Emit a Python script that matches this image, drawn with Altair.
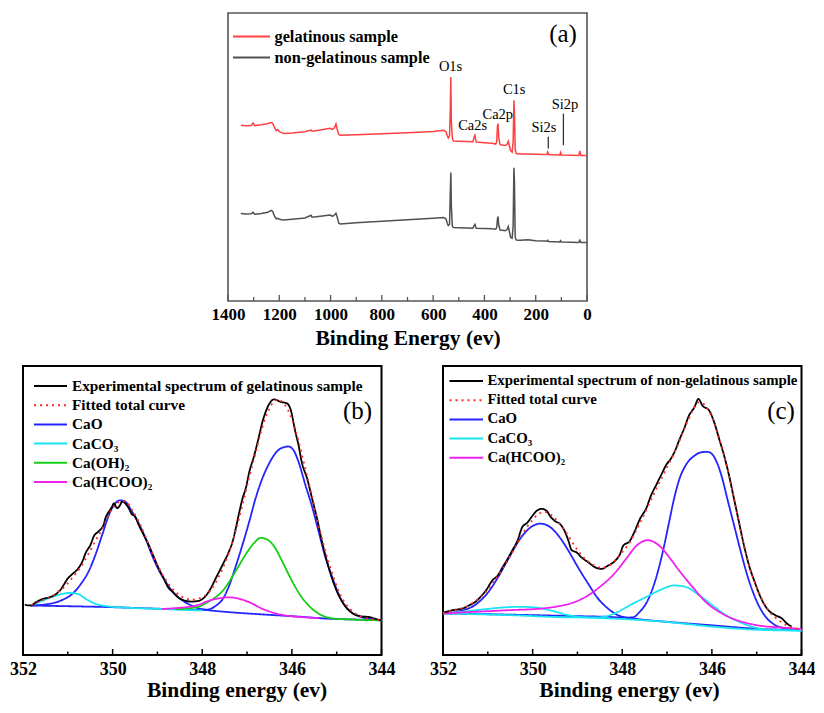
import altair as alt
import pandas as pd

FONT = "Liberation Serif"

# ---------------- Panel (a): survey spectra (binding energy, intensity a.u.) ----------------
a_gel = [(1350,176.3),(1330,175.8),(1310,176.2),(1302,178.5),(1296,176.0),(1270,176.8),(1245,177.8),(1232,179.0),
         (1226,178.5),(1220,175.0),(1212,171.0),(1206,172.0),(1200,170.0),(1190,169.0),(1184,168.0),(1150,168.5),
         (1100,169.8),(1076,171.5),(1072,170.3),(1040,171.5),(1002,173.3),(992,172.2),(984,174.0),(979,177.7),
         (974,172.0),(968,167.0),(962,166.3),(900,166.8),(800,167.8),(700,168.8),(600,170.2),(560,171.3),
         (550,170.0),(545,166.0),(541,163.5),(536,166.0),(533,195.0),(531,224.7),(529,180.0),(525,163.0),
         (521,160.5),(500,160.3),(470,160.0),(445,159.8),(440,164.5),(437,166.3),(432,159.5),(400,158.8),
         (370,158.2),(356,157.5),(352,160.0),(349,176.0),(347,178.0),(344,164.0),(339,157.0),(330,156.5),
         (318,156.0),(311,157.5),(307,160.3),(303,156.0),(298,151.0),(292,149.5),(288,160.0),(285,201.3),
         (283,190.0),(280,152.0),(276,148.0),(260,147.6),(230,147.4),(200,147.2),(165,147.0),(156,147.2),
         (153,149.5),(150,147.0),(130,146.8),(106,146.6),(103,149.0),(100,146.6),(60,146.3),(32,146.0),
         (28,150.5),(24,146.0),(10,145.9),(1,145.7)]
a_non = [(1350,87.7),(1330,87.2),(1310,87.5),(1302,89.0),(1296,87.0),(1270,87.8),(1245,89.0),(1232,91.0),
         (1226,90.0),(1220,86.0),(1212,82.5),(1206,83.0),(1200,82.0),(1190,81.5),(1184,81.3),(1150,82.0),
         (1100,83.3),(1076,86.0),(1072,84.0),(1040,85.0),(1002,86.3),(992,85.0),(984,86.5),(979,88.0),
         (974,84.0),(968,78.0),(962,77.3),(900,78.5),(800,80.0),(700,81.5),(600,83.0),(560,83.7),
         (550,82.5),(545,78.0),(541,75.7),(536,77.0),(533,110.0),(531,129.0),(529,95.0),(525,75.0),
         (521,73.7),(500,73.5),(470,73.2),(445,73.0),(440,76.0),(437,77.0),(432,73.0),(400,72.8),
         (370,72.5),(356,72.0),(352,74.0),(349,83.0),(347,84.7),(344,76.0),(339,71.3),(330,71.0),
         (318,70.5),(311,72.0),(307,74.7),(303,70.0),(298,64.0),(292,63.0),(288,75.0),(285,133.7),
         (283,120.0),(280,64.0),(276,61.3),(260,61.0),(230,61.5),(200,60.5),(165,60.2),(156,60.0),
         (153,61.0),(150,59.8),(130,59.5),(106,59.2),(103,60.5),(100,59.2),(60,59.0),(32,58.8),
         (28,61.0),(24,58.8),(10,58.7),(1,58.7)]
a_series = ["gelatinous sample", "non-gelatinous sample"]
a_colors = ["#ff4040", "#505050"]
a_peak_labels = ["O1s", "Ca2s", "Ca2p", "C1s", "Si2s", "Si2p"]
a_peak_E = [532, 446, 348, 284, 168, 86]
a_peak_I = [234.7, 175.3, 187.0, 211.3, 173.7, 197.0]
a_marker_E = [151, 92]
a_marker_lo = [153.0, 156.3]
a_marker_hi = [164.7, 188.0]
a_ticks_major = [1400, 1200, 1000, 800, 600, 400, 200, 0]
a_ticks_minor = [1300, 1100, 900, 700, 500, 300, 100]

# ---------------- Panel (b): Ca 2p, gelatinous sample ----------------
b_names = ["Experimental spectrum of gelatinous sample", "Fitted total curve", "CaO", "CaCO\u2083",
           "Ca(OH)\u2082", "Ca(HCOO)\u2082"]
b_colors = ["#000000", "#ff2a2a", "#2424ff", "#18e4f2", "#14d014", "#f020f0"]
b_exp = [(351.96,50.7),(351.82,50.0),(351.71,53.3),(351.56,56.7),(351.41,58.3),(351.26,61.7),(351.15,66.7),
         (351.08,71.7),(351.01,76.7),(350.90,81.7),(350.78,86.7),(350.67,95.0),(350.60,103.3),(350.49,111.7),
         (350.42,120.0),(350.31,125.0),(350.20,131.7),(350.16,138.3),(350.08,145.0),(350.01,150.0),(349.97,153.3),
         (349.90,148.3),(349.83,151.7),(349.79,155.0),(349.72,153.3),(349.64,148.3),(349.57,142.3),(349.50,140.0),
         (349.42,131.7),(349.31,121.7),(349.20,111.7),(349.09,100.0),(348.98,88.3),(348.87,78.3),(348.76,68.3),
         (348.65,63.3),(348.54,58.3),(348.39,55.0),(348.24,54.0),(348.13,54.3),(347.99,56.7),(347.84,65.0),
         (347.69,78.3),(347.54,91.7),(347.40,105.0),(347.32,115.0),(347.25,128.3),(347.17,145.0),(347.10,158.3),
         (347.03,168.3),(346.95,185.0),(346.84,201.7),(346.73,221.7),(346.66,235.0),(346.59,245.0),(346.51,253.3),
         (346.40,258.3),(346.25,255.7),(346.11,254.3),(346.03,248.3),(345.92,225.0),(345.85,211.7),(345.78,195.0),
         (345.66,178.3),(345.55,158.3),(345.44,138.3),(345.33,115.0),(345.22,95.0),(345.11,78.3),(344.97,61.7),
         (344.82,50.0),(344.63,41.7),(344.45,39.0),(344.27,38.3),(344.15,36.7),(344.01,35.0)]
b_fit = [(351.82,50.5),(351.56,55.5),(351.26,62.0),(351.05,70.0),(350.90,78.0),(350.71,89.0),(350.53,103.0),
         (350.35,118.0),(350.20,130.0),(350.05,145.0),(349.93,152.0),(349.80,155.5),(349.68,154.0),(349.57,147.0),
         (349.42,135.0),(349.27,120.0),(349.13,104.0),(348.98,89.0),(348.83,77.0),(348.65,66.0),(348.46,59.0),
         (348.24,56.0),(348.05,57.5),(347.84,64.0),(347.69,74.0),(347.54,88.0),(347.40,104.0),(347.25,126.0),
         (347.10,152.0),(346.95,180.0),(346.81,204.0),(346.66,230.0),(346.51,248.0),(346.40,256.0),(346.30,258.0),
         (346.20,255.0),(346.08,247.0),(345.96,233.0),(345.85,216.0),(345.70,188.0),(345.55,160.0),(345.41,132.0),
         (345.26,106.0),(345.11,84.0),(344.97,66.0),(344.82,53.0),(344.67,45.0),(344.52,40.0),(344.38,37.5),
         (344.15,36.0),(344.01,35.0)]
b_cao_1 = [(351.82,50.0),(351.41,51.7),(351.12,55.7),(350.90,61.7),(350.71,71.7),(350.53,85.0),(350.38,101.7),
           (350.23,121.7),(350.08,141.7),(349.97,151.7),(349.83,156.3),(349.72,155.0),(349.57,145.0),(349.42,133.3),
           (349.27,118.3),(349.13,101.7),(348.98,86.7),(348.83,75.0),(348.65,63.3),(348.46,55.7),(348.24,50.0),
           (348.02,46.5),(347.70,44.5),(347.40,43.3),(346.66,41.0),(345.92,39.0),(345.19,36.7),(344.45,35.7),
           (344.00,35.0)]
b_cao_2 = [(351.82,50.0),(351.00,49.3),(350.00,48.3),(349.00,46.8),(348.30,46.0),(347.91,45.7),(347.69,50.0),
           (347.54,56.7),(347.40,70.0),(347.25,90.0),(347.10,111.7),(346.95,135.0),(346.81,158.3),(346.66,178.3),
           (346.51,193.3),(346.36,204.3),(346.22,209.3),(346.08,210.7),(345.96,206.7),(345.85,195.0),(345.70,172.0),
           (345.55,150.0),(345.41,126.0),(345.26,100.0),(345.11,80.0),(344.97,63.0),(344.82,50.0),(344.67,43.0),
           (344.52,39.5),(344.38,37.5),(344.15,36.0),(344.00,35.0)]
b_caco3 = [(351.82,50.0),(351.56,55.0),(351.26,60.0),(350.97,62.7),(350.78,61.7),(350.60,56.7),(350.38,51.7),
           (350.08,49.0),(349.64,47.7),(349.05,46.7),(348.46,45.7),(347.99,45.0)]
b_caoh2 = [(348.60,46.3),(348.13,48.3),(347.84,54.3),(347.54,65.0),(347.25,85.0),(347.03,101.7),(346.84,113.3),
           (346.70,118.3),(346.55,116.7),(346.40,110.0),(346.22,95.0),(346.00,75.0),(345.78,58.3),(345.55,46.7),
           (345.33,40.0),(345.04,36.7),(344.60,35.7),(344.00,35.0)]
b_formate = [(348.90,46.5),(348.55,47.5),(348.32,48.5),(348.13,50.0),(347.84,55.0),(347.62,57.3),(347.40,58.3),
             (347.17,56.7),(346.95,53.3),(346.66,46.7),(346.36,42.0),(346.07,39.5),(345.78,38.3),(345.40,37.2)]

# ---------------- Panel (c): Ca 2p, non-gelatinous sample ----------------
c_names = ["Experimental spectrum of non-gelatinous sample", "Fitted total curve", "CaO", "CaCO\u2083",
           "Ca(HCOO)\u2082"]
c_colors = ["#000000", "#ff2a2a", "#2424ff", "#18e4f2", "#f020f0"]
c_exp = [(352.00,42.7),(351.78,45.3),(351.56,47.0),(351.41,50.3),(351.26,54.3),(351.15,59.3),(351.04,65.3),
         (350.90,75.3),(350.78,80.3),(350.67,88.7),(350.56,97.0),(350.45,106.0),(350.34,115.3),(350.23,129.3),
         (350.12,133.7),(350.01,140.3),(349.90,146.0),(349.79,147.7),(349.68,145.3),(349.61,140.3),(349.50,135.3),
         (349.38,132.0),(349.27,123.7),(349.20,115.3),(349.13,106.0),(349.02,103.7),(348.91,98.7),(348.76,93.7),
         (348.61,88.7),(348.46,87.0),(348.32,90.3),(348.17,94.7),(348.05,102.0),(347.98,110.3),(347.83,115.3),
         (347.72,125.3),(347.61,137.0),(347.46,148.7),(347.35,162.0),(347.24,172.0),(347.13,182.0),(347.02,192.0),
         (346.91,198.7),(346.80,208.7),(346.73,217.0),(346.62,228.7),(346.51,242.0),(346.39,250.3),(346.30,258.7),
         (346.21,252.0),(346.06,247.0),(345.95,235.3),(345.84,218.7),(345.73,202.0),(345.62,182.0),(345.51,158.7),
         (345.40,135.3),(345.29,112.0),(345.18,92.0),(345.03,72.0),(344.88,55.3),(344.74,45.3),(344.59,40.3),
         (344.44,37.0),(344.33,32.0),(344.22,28.7)]
c_fit = [(352.00,42.5),(351.78,45.0),(351.56,47.5),(351.41,50.5),(351.26,55.0),(351.04,64.0),(350.90,72.0),
         (350.67,87.0),(350.45,104.0),(350.23,122.0),(350.01,136.0),(349.85,143.0),(349.72,144.5),(349.60,142.0),
         (349.42,134.0),(349.27,125.0),(349.13,115.0),(349.00,106.0),(348.80,96.0),(348.60,90.0),(348.46,88.0),
         (348.30,90.0),(348.17,95.0),(348.00,104.0),(347.83,114.0),(347.61,133.0),(347.46,147.0),(347.24,168.0),
         (347.02,188.0),(346.80,208.0),(346.62,228.0),(346.45,245.0),(346.32,255.0),(346.20,254.0),(346.06,246.0),
         (345.95,236.0),(345.84,220.0),(345.73,202.0),(345.62,182.0),(345.51,159.0),(345.40,135.0),(345.29,112.0),
         (345.18,92.0),(345.03,72.0),(344.88,56.0),(344.74,45.0),(344.59,38.0),(344.44,33.0),(344.30,29.0),
         (344.15,27.0),(344.00,26.0)]
c_cao_1 = [(352.00,42.0),(351.63,44.3),(351.26,51.3),(350.97,64.7),(350.75,80.3),(350.53,98.0),(350.31,115.3),
           (350.08,127.7),(349.83,132.7),(349.61,129.3),(349.42,120.3),(349.20,105.3),(348.98,88.0),(348.76,72.0),
           (348.54,57.0),(348.32,47.0),(348.10,40.3),(347.87,37.5),(347.60,36.0),(347.00,33.5),(346.00,30.0),
           (345.00,26.5),(344.00,25.3)]
c_cao_2 = [(352.00,42.0),(350.53,40.8),(349.05,39.3),(348.30,38.5),(347.95,37.8),(347.76,38.0),(347.61,43.7),
           (347.46,52.7),(347.35,63.7),(347.24,78.7),(347.09,105.3),(346.95,135.3),(346.84,158.7),(346.73,177.0),
           (346.58,192.0),(346.39,201.3),(346.25,204.7),(346.10,205.3),(345.99,202.7),(345.88,193.7),(345.77,178.7),
           (345.66,158.7),(345.51,132.0),(345.36,105.3),(345.22,82.0),(345.07,62.0),(344.92,47.0),(344.77,37.0),
           (344.59,30.3),(344.37,27.0),(344.00,25.3)]
c_caco3_1 = [(352.00,42.0),(351.56,43.7),(351.12,46.0),(350.67,48.0),(350.31,48.7),(349.94,48.0),(349.57,44.7),
             (349.20,40.3),(348.83,38.0),(348.32,37.0),(347.09,33.7),(345.99,28.7),(344.88,25.3),(344.00,24.7)]
c_caco3_2 = [(352.00,42.0),(350.53,40.3),(349.05,38.0),(348.54,38.0),(348.17,42.0),(347.83,50.3),(347.46,58.7),
             (347.17,65.3),(346.84,70.3),(346.58,68.7),(346.28,60.3),(345.99,50.3),(345.69,40.3),(345.40,33.7),
             (345.11,28.7),(344.81,26.0),(344.52,25.3),(344.00,24.7)]
c_formate = [(352.00,42.0),(351.26,43.7),(350.53,45.3),(349.79,47.0),(349.42,49.3),(349.05,53.7),(348.76,60.3),
             (348.46,70.3),(348.20,81.0),(347.90,98.0),(347.68,110.5),(347.43,116.0),(347.17,110.3),(346.95,98.7),
             (346.73,85.3),(346.43,68.7),(346.14,53.7),(345.84,43.7),(345.55,37.0),(345.25,32.7),(344.88,29.3),
             (344.52,28.0),(344.22,27.0),(344.00,26.3)]

hr_ticks_major = [352, 350, 348, 346, 344]
hr_ticks_minor = [351, 349, 347, 345]


# ---------------- helpers ----------------
def long_df(curves):
    rows = []
    for name, cid, pts in curves:
        for e, i in pts:
            rows.append({"E": e, "I": i, "s": name, "c": cid})
    return pd.DataFrame(rows)


def legend_layers(names, color_enc, dash_enc, sx0, sx1, tx, y0, step, fsize):
    ly = alt.Y("s:N", scale=alt.Scale(type="point", domain=names, padding=0,
                                      range=[y0, y0 + step * (len(names) - 1)]), axis=None)
    df = pd.DataFrame({"s": names})
    enc = dict(y=ly, color=color_enc)
    if dash_enc is not None:
        enc["strokeDash"] = dash_enc
    sym = alt.Chart(df).mark_rule(strokeWidth=2).encode(x=alt.value(sx0), x2=alt.value(sx1), **enc)
    txt = alt.Chart(df).mark_text(font=FONT, fontSize=fsize, fontWeight="bold", color="black",
                                  align="left", baseline="middle").encode(
        x=alt.value(tx), y=ly, text="s:N")
    return [sym, txt]


def make_hr_panel(curves, names, colors, dashes, tag, tag_x, W, H, title_x, sx0, sx1, tx, y0, lfs):
    df = long_df(curves)
    x = alt.X("E:Q", scale=alt.Scale(domain=[344, 352], reverse=True, nice=False, zero=False),
              axis=alt.Axis(values=hr_ticks_major, format="d", labelFont=FONT, labelFontSize=18,
                            labelFontWeight="bold", labelColor="black", labelPadding=5, labelFlush=False,
                            labelOverlap=False, ticks=False, tickSize=0, domain=False, grid=False,
                            title="Binding energy (ev)", titleFont=FONT, titleFontSize=21.5,
                            titleFontWeight="bold", titleColor="black", titlePadding=1, titleX=title_x))
    y = alt.Y("I:Q", scale=alt.Scale(domain=[0, 292], nice=False, zero=False), axis=None)
    color = alt.Color("s:N", scale=alt.Scale(domain=names, range=colors), legend=None)
    dash = alt.StrokeDash("s:N", scale=alt.Scale(domain=names, range=dashes), legend=None)
    lines = alt.Chart(df).mark_line(strokeWidth=1.8, interpolate="monotone").encode(
        x=x, y=y, color=color, strokeDash=dash, detail="c:N",
        order=alt.Order("E:Q", sort="descending"),
    )
    tmaj = alt.Chart(pd.DataFrame({"E": hr_ticks_major})).mark_rule(color="black", strokeWidth=1.5).encode(
        x=x, y=alt.value(H), y2=alt.value(H - 6))
    tmin = alt.Chart(pd.DataFrame({"E": hr_ticks_minor})).mark_rule(color="black", strokeWidth=1.5).encode(
        x=x, y=alt.value(H), y2=alt.value(H - 3.5))
    lab = alt.Chart(pd.DataFrame({"t": [tag]})).mark_text(font=FONT, fontSize=25, color="black",
                                                          align="center", baseline="middle").encode(
        x=alt.value(tag_x), y=alt.value(45), text="t:N")
    leg = legend_layers(names, color, dash, sx0, sx1, tx, y0, 19.2, lfs)
    return alt.layer(lines, tmaj, tmin, lab, *leg).resolve_scale(y="independent").properties(
        width=W, height=H, view=alt.ViewBackground(stroke="black", strokeWidth=2))


# ---------------- panel (a) ----------------
WA, HA = 359, 288
df_a = long_df([(a_series[1], "n", a_non), (a_series[0], "g", a_gel)])
xa = alt.X("E:Q", scale=alt.Scale(domain=[0, 1400], reverse=True, nice=False, zero=False),
           axis=alt.Axis(values=a_ticks_major, format="d", labelFont=FONT, labelFontSize=17,
                         labelFontWeight="bold", labelColor="black", labelPadding=5, labelFlush=False,
                         labelOverlap=False, ticks=False, tickSize=0, domain=False, grid=False,
                         title="Binding Energy (ev)", titleFont=FONT, titleFontSize=21.5,
                         titleFontWeight="bold", titleColor="black", titlePadding=5))
ya = alt.Y("I:Q", scale=alt.Scale(domain=[0, 289], nice=False, zero=False), axis=None)
color_a = alt.Color("s:N", scale=alt.Scale(domain=a_series, range=a_colors), legend=None)
lines_a = alt.Chart(df_a).mark_line(strokeWidth=1.5).encode(
    x=xa, y=ya, color=color_a, detail="c:N", order=alt.Order("E:Q", sort="descending"))
df_peaks = pd.DataFrame({"E": a_peak_E, "I": a_peak_I, "t": a_peak_labels})
peaks_a = alt.Chart(df_peaks).mark_text(font=FONT, fontSize=14.5, color="black", align="center",
                                        baseline="middle").encode(x=xa, y=ya, text="t:N")
df_mark = pd.DataFrame({"E": a_marker_E, "I": a_marker_lo, "I2": a_marker_hi})
marks_a = alt.Chart(df_mark).mark_rule(color="#333333", strokeWidth=1.3).encode(x=xa, y=ya, y2="I2:Q")
tmaj_a = alt.Chart(pd.DataFrame({"E": a_ticks_major})).mark_rule(color="#555555", strokeWidth=1.3).encode(
    x=xa, y=alt.value(HA), y2=alt.value(HA - 6))
tmin_a = alt.Chart(pd.DataFrame({"E": a_ticks_minor})).mark_rule(color="#555555", strokeWidth=1.3).encode(
    x=xa, y=alt.value(HA), y2=alt.value(HA - 4))
lab_a = alt.Chart(pd.DataFrame({"t": ["(a)"]})).mark_text(font=FONT, fontSize=25, color="black",
                                                          align="center", baseline="middle").encode(
    x=alt.value(WA - 24), y=alt.value(21), text="t:N")
leg_a = legend_layers(a_series, color_a, None, 5, 42, 46.5, 23.5, 21.0, 16.3)
chart_a = alt.layer(lines_a, peaks_a, marks_a, tmaj_a, tmin_a, lab_a, *leg_a).resolve_scale(
    y="independent").properties(width=WA, height=HA,
                                view=alt.ViewBackground(stroke="#555555", strokeWidth=1.6))

spacer = alt.Chart(pd.DataFrame({"v": [0]})).mark_point(opacity=0, size=0).encode(
    x=alt.X("v:Q", axis=None), y=alt.Y("v:Q", axis=None)).properties(
    width=204.6, height=HA, view=alt.ViewBackground(stroke="transparent"))

# ---------------- panels (b) and (c) ----------------
WB, HB = 358.5, 289
chart_b = make_hr_panel(
    [(b_names[2], "cao1", b_cao_1), (b_names[2], "cao2", b_cao_2), (b_names[3], "caco3", b_caco3),
     (b_names[4], "caoh2", b_caoh2), (b_names[5], "form", b_formate), (b_names[0], "exp", b_exp),
     (b_names[1], "fit", b_fit)],
    b_names, b_colors, [[1, 0], [2, 4], [1, 0], [1, 0], [1, 0], [1, 0]],
    "(b)", 334.5, WB, HB, 213.6, 11, 44, 49, 20, 15.3)
chart_c = make_hr_panel(
    [(c_names[2], "cao1", c_cao_1), (c_names[2], "cao2", c_cao_2), (c_names[3], "caco3a", c_caco3_1),
     (c_names[3], "caco3b", c_caco3_2), (c_names[4], "form", c_formate), (c_names[0], "exp", c_exp),
     (c_names[1], "fit", c_fit)],
    c_names, c_colors, [[1, 0], [2, 4], [1, 0], [1, 0], [1, 0]],
    "(c)", 338, WB, HB, 186, 6.5, 40, 44.5, 15, 14.8)

top = alt.hconcat(spacer, chart_a, spacing=0, bounds="flush")
bottom = alt.hconcat(chart_b, chart_c, spacing=61, bounds="flush").resolve_scale(
    color="independent", strokeDash="independent", x="independent", y="independent")
chart = alt.vconcat(top, bottom, spacing=15, bounds="full").resolve_scale(
    color="independent", strokeDash="independent", x="independent", y="independent").properties(
    padding={"left": 0, "top": 4, "right": -1, "bottom": 0}, background="white")

chart.save("out.html", embed_options={"renderer": "svg", "actions": False})
